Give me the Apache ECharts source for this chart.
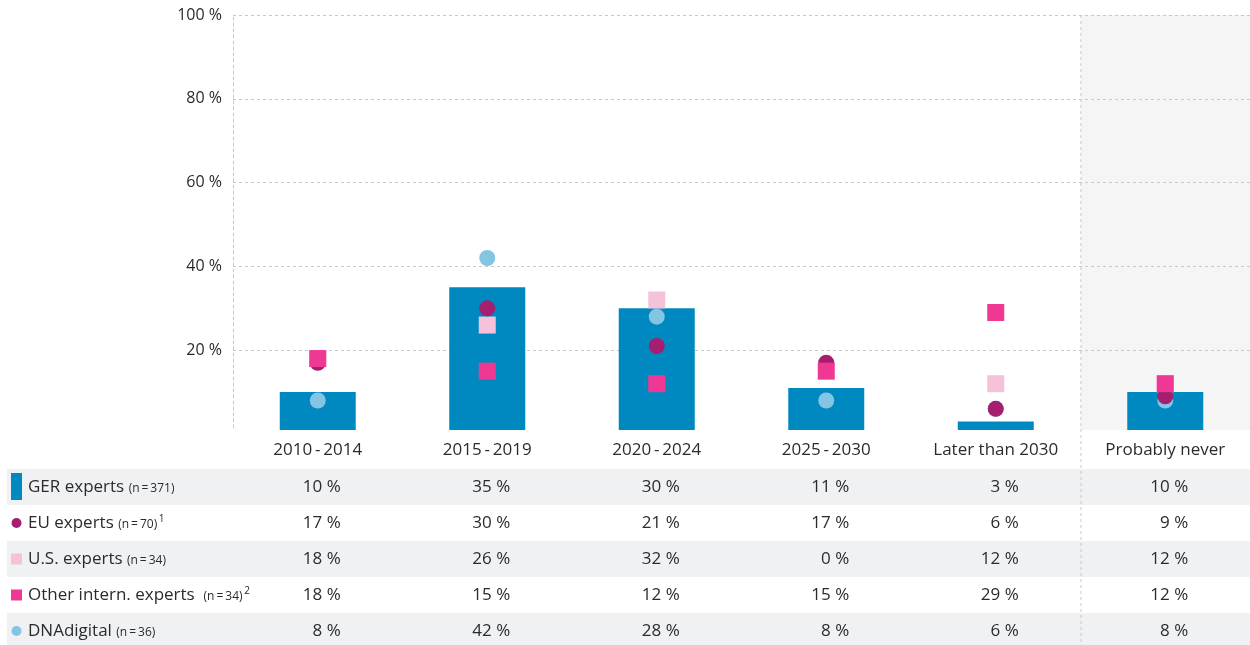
<!DOCTYPE html>
<html>
<head>
<meta charset="utf-8">
<script src="https://cdn.jsdelivr.net/npm/echarts@6/dist/echarts.min.js"></script>
<style>
  html, body { margin: 0; padding: 0; background: #fff; }
  #main { width: 1250px; height: 645px; }
</style>
</head>
<body>
<div id="main"></div>
<script>
// categories (x axis)
const categories = ['2010\u2009-\u20092014', '2015\u2009-\u20092019', '2020\u2009-\u20092024', '2025\u2009-\u20092030', 'Later than 2030', 'Probably never'];

// values in %
const gerExperts   = [10, 35, 30, 11, 3, 10];
const euExperts    = [17, 30, 21, 17, 6, 9];
const usExperts    = [18, 26, 32, 0, 12, 12];
const otherExperts = [18, 15, 12, 15, 29, 12];
const dnaDigital   = [8, 42, 28, 8, 6, 8];

// table rows: label, sample size, footnote
const rowLabels = ['GER experts', 'EU experts', 'U.S. experts', 'Other intern. experts ', 'DNAdigital'];
const rowSizes  = ['(n\u2009=\u2009371)', '(n\u2009=\u200970)', '(n\u2009=\u200934)', '(n\u2009=\u200934)', '(n\u2009=\u200936)'];
const rowNotes  = ['', '1', '', '2', ''];
const rowValues = [gerExperts, euExperts, usExperts, otherExperts, dnaDigital];

const C_BAR = '#0089c1';
const C_EU = '#a61e6f';
const C_US = '#f6c2da';
const C_OTHER = '#ee3893';
const C_DNA = '#84c5e4';
const FONT = '"Open Sans", "Noto Sans", sans-serif';
const TXT = '#2b2b2b';
const GRID_LINE = '#c9c9c9';

var chart = echarts.init(document.getElementById('main'));

function pts(arr) {
  // zero values are not drawn as marks
  return arr.map(v => v === 0 ? null : v);
}

var option = {
  animation: false,
  textStyle: { fontFamily: FONT },
  grid: { left: 233, right: 0, top: 15, bottom: 211 },
  xAxis: {
    type: 'category',
    z: 6,
    data: categories,
    axisLine: { show: false },
    axisTick: { show: false },
    axisLabel: { margin: 8, fontSize: 17, color: TXT, fontFamily: FONT }
  },
  yAxis: {
    type: 'value',
    min: 0,
    max: 100,
    interval: 20,
    axisLine: { show: true, lineStyle: { color: GRID_LINE, type: [3, 3] } },
    axisTick: { show: false },
    axisLabel: {
      margin: 11, fontSize: 16, color: TXT, fontFamily: FONT,
      formatter: v => v === 0 ? '' : v + ' %'
    },
    splitLine: { show: true, showMinLine: false, lineStyle: { color: GRID_LINE, type: [3, 3] } }
  },
  series: [
    { name: 'GER experts', type: 'bar', data: gerExperts, barWidth: 76,
      itemStyle: { color: C_BAR } },
    { name: 'DNAdigital', type: 'scatter', data: pts(dnaDigital), symbol: 'circle', symbolSize: 16,
      itemStyle: { color: C_DNA, opacity: 1 } },
    { name: 'U.S. experts', type: 'scatter', data: pts(usExperts), symbol: 'rect', symbolSize: 17,
      itemStyle: { color: C_US, opacity: 1 } },
    { name: 'EU experts', type: 'scatter', data: pts(euExperts), symbol: 'circle', symbolSize: 16,
      itemStyle: { color: C_EU, opacity: 1 } },
    { name: 'Other intern. experts', type: 'scatter', data: pts(otherExperts), symbol: 'rect', symbolSize: 17,
      itemStyle: { color: C_OTHER, opacity: 1 } }
  ]
};
chart.setOption(option);

// table + shaded column, positioned from the axis scales
var xPix = i => chart.convertToPixel({ xAxisIndex: 0 }, i);
var yPix = v => chart.convertToPixel({ yAxisIndex: 0 }, v);
var band = xPix(1) - xPix(0);
var rowTop = 469, rowH = 36, headTop = 430;

var g = [];
// shaded "Probably never" column
g.push({ type: 'rect', z: -10, shape: { x: xPix(5) - band / 2, y: yPix(100), width: band, height: yPix(0) - yPix(100) },
  style: { fill: '#f5f5f5' } });
// header band (white) covering the plot base
g.push({ type: 'rect', z: 4, shape: { x: 0, y: headTop, width: 1250, height: rowTop - headTop },
  style: { fill: '#fff' } });
// row stripes
for (var r = 0; r < rowLabels.length; r += 2) {
  g.push({ type: 'rect', z: -10, shape: { x: 7, y: rowTop + r * rowH, width: 1243, height: rowH },
    style: { fill: '#f0f1f3' } });
}
// divider before the last column
g.push({ type: 'line', z: 7, shape: { x1: xPix(5) - band / 2 + 0.5, y1: yPix(100), x2: xPix(5) - band / 2 + 0.5, y2: 645 },
  style: { stroke: GRID_LINE, lineWidth: 1, lineDash: [3, 3] } });

// legend markers
var markers = [
  { type: 'rect', shape: { x: 11, y: 473, width: 11, height: 27 }, style: { fill: C_BAR } },
  { type: 'circle', shape: { cx: 16.5, cy: rowTop + 1.5 * rowH, r: 5 }, style: { fill: C_EU } },
  { type: 'rect', shape: { x: 11, y: rowTop + 2.5 * rowH - 5.5, width: 11, height: 11 }, style: { fill: C_US } },
  { type: 'rect', shape: { x: 11, y: rowTop + 3.5 * rowH - 5.5, width: 11, height: 11 }, style: { fill: C_OTHER } },
  { type: 'circle', shape: { cx: 16.5, cy: rowTop + 4.5 * rowH, r: 5 }, style: { fill: C_DNA } }
];
markers.forEach(m => g.push(m));

rowLabels.forEach(function (lab, r) {
  var cy = rowTop + r * rowH + rowH / 2;
  var txt = '{a|' + lab + ' }{b|' + rowSizes[r] + '}' + (rowNotes[r] ? '{c|\u2009' + rowNotes[r] + '}' : '');
  g.push({ type: 'text', x: 28, y: cy, style: {
    text: txt, verticalAlign: 'middle', fill: TXT, font: '17px ' + FONT,
    rich: {
      a: { fontSize: 17, fontFamily: FONT, fill: TXT, lineHeight: 22, verticalAlign: 'middle' },
      b: { fontSize: 12, fontFamily: FONT, fill: TXT, lineHeight: 14, padding: [4, 0, 0, 0], verticalAlign: 'middle' },
      c: { fontSize: 10, fontFamily: FONT, fill: TXT, lineHeight: 12, padding: [0, 0, 8, 0], verticalAlign: 'middle' }
    } } });
  rowValues[r].forEach(function (v, i) {
    g.push({ type: 'text', x: xPix(i) + 23, y: cy, style: {
      text: v + ' %', align: 'right', verticalAlign: 'middle', fill: TXT, font: '17px ' + FONT } });
  });
});

chart.setOption({ graphic: { elements: g } });
</script>
</body>
</html>
